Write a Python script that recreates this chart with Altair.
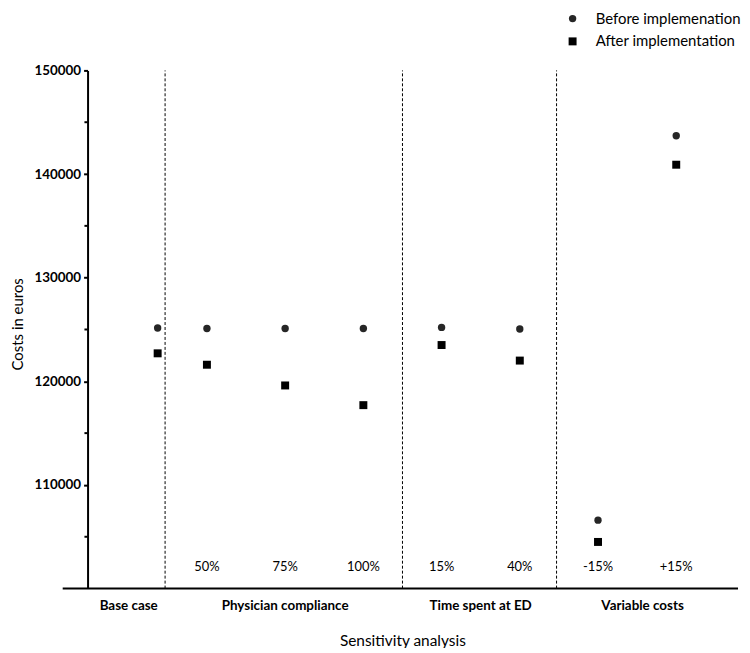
import altair as alt
import pandas as pd

# ---- data ----
categories = ["Base case", "50%", "75%", "100%", "15%", "40%", "-15%", "+15%"]
slot_pos = [0.37, 1, 2, 3, 4, 5, 6, 7]
before_vals = [125150, 125100, 125100, 125100, 125200, 125050, 106600, 143700]
after_vals = [122700, 121600, 119600, 117700, 123500, 122000, 104500, 140900]

tick_labels = ["50%", "75%", "100%", "15%", "40%", "-15%", "+15%"]
tick_label_pos = [1, 2, 3, 4, 5, 6, 7]

group_names = ["Base case", "Physician compliance", "Time spent at ED", "Variable costs"]
group_pos = [0, 2, 4.5, 6.57]
divider_pos = [0.465, 3.5, 5.47]

y_ticks = [110000, 120000, 130000, 140000, 150000]
minor_ticks = [105000, 115000, 125000, 135000, 145000]

legend_labels = ["Before implemenation", "After implementation"]
legend_y = [155000, 152800]

FONT = "Lato"
XD = [-0.526, 7.79]
YD = [100000, 150000]

xs = alt.Scale(domain=XD, nice=False, zero=False)
ys = alt.Scale(domain=YD, nice=False, zero=False)

y_axis = alt.Axis(
    values=y_ticks, format="d", title=None, grid=False,
    labelFont=FONT, labelFontWeight="bold", labelFontSize=13.5,
    labelColor="black", labelPadding=3,
    tickSize=4, tickWidth=2, tickColor="black",
    domainColor="black", domainWidth=2)


def X(field):
    return alt.X(field, scale=xs, axis=None)


def Y(field):
    return alt.Y(field, scale=ys, axis=y_axis)


df = pd.DataFrame({"cat": categories, "pos": slot_pos,
                   "before": before_vals, "after": after_vals})

before_layer = alt.Chart(df).mark_point(
    shape="circle", filled=True, size=55, color="#262626", opacity=1
).encode(x=X("pos:Q"), y=Y("before:Q"))

after_layer = alt.Chart(df).mark_point(
    shape="square", filled=True, size=64, color="black", opacity=1
).encode(x=X("pos:Q"), y=Y("after:Q"))

div_df = pd.DataFrame({"x": divider_pos, "y1": [YD[0]] * 3, "y2": [YD[1]] * 3})
dividers = alt.Chart(div_df).mark_rule(
    color="black", strokeWidth=1, strokeDash=[3, 2]
).encode(x=X("x:Q"), y=Y("y1:Q"), y2="y2:Q")

base_df = pd.DataFrame({"x1": [-0.844], "x2": [XD[1]], "y": [YD[0]]})
baseline = alt.Chart(base_df).mark_rule(color="black", strokeWidth=2).encode(
    x=X("x1:Q"), x2="x2:Q", y=Y("y:Q"))

minor_df = pd.DataFrame({"y": minor_ticks, "x1": [-0.566] * 5, "x2": [-0.526] * 5})
minor = alt.Chart(minor_df).mark_rule(color="black", strokeWidth=2).encode(
    x=X("x1:Q"), x2="x2:Q", y=Y("y:Q"))

tl_df = pd.DataFrame({"t": tick_labels, "x": tick_label_pos, "y": [102100] * 7})
tick_text = alt.Chart(tl_df).mark_text(
    font=FONT, fontSize=13, color="black", baseline="middle", align="center"
).encode(x=X("x:Q"), y=Y("y:Q"), text="t:N")

g_df = pd.DataFrame({"t": group_names, "x": group_pos, "y": [98350] * 4})
group_text = alt.Chart(g_df).mark_text(
    font=FONT, fontSize=13.5, fontWeight="bold", color="black",
    baseline="middle", align="center"
).encode(x=X("x:Q"), y=Y("y:Q"), text="t:N")

xt_df = pd.DataFrame({"t": ["Sensitivity analysis"], "x": [3.505], "y": [94900]})
x_title = alt.Chart(xt_df).mark_text(
    font=FONT, fontSize=15.5, color="black", baseline="middle", align="center"
).encode(x=X("x:Q"), y=Y("y:Q"), text="t:N")

yt_df = pd.DataFrame({"t": ["Costs in euros"], "x": [-1.42], "y": [125500]})
y_title = alt.Chart(yt_df).mark_text(
    font=FONT, fontSize=15, color="black", baseline="middle", align="center",
    angle=270
).encode(x=X("x:Q"), y=Y("y:Q"), text="t:N")

leg_df = pd.DataFrame({"t": legend_labels, "y": legend_y,
                       "px": [5.675, 5.675], "tx": [5.97, 5.97]})
leg_circle = alt.Chart(leg_df.iloc[[0]]).mark_point(
    shape="circle", filled=True, size=55, color="#262626", opacity=1
).encode(x=X("px:Q"), y=Y("y:Q"))
leg_square = alt.Chart(leg_df.iloc[[1]]).mark_point(
    shape="square", filled=True, size=64, color="black", opacity=1
).encode(x=X("px:Q"), y=Y("y:Q"))
leg_text = alt.Chart(leg_df).mark_text(
    font=FONT, fontSize=15, color="black", baseline="middle", align="left"
).encode(x=X("tx:Q"), y=Y("y:Q"), text="t:N")

chart = alt.layer(
    before_layer, after_layer, dividers, baseline, minor,
    tick_text, group_text, x_title, y_title,
    leg_circle, leg_square, leg_text,
).properties(
    width=654, height=521,
    autosize=alt.AutoSizeParams(type="none"),
    padding={"left": 80, "top": 61, "right": 4, "bottom": 58},
).configure(background="white").configure_view(strokeWidth=0)

chart.save("out.html", embed_options={"renderer": "svg", "actions": False})
